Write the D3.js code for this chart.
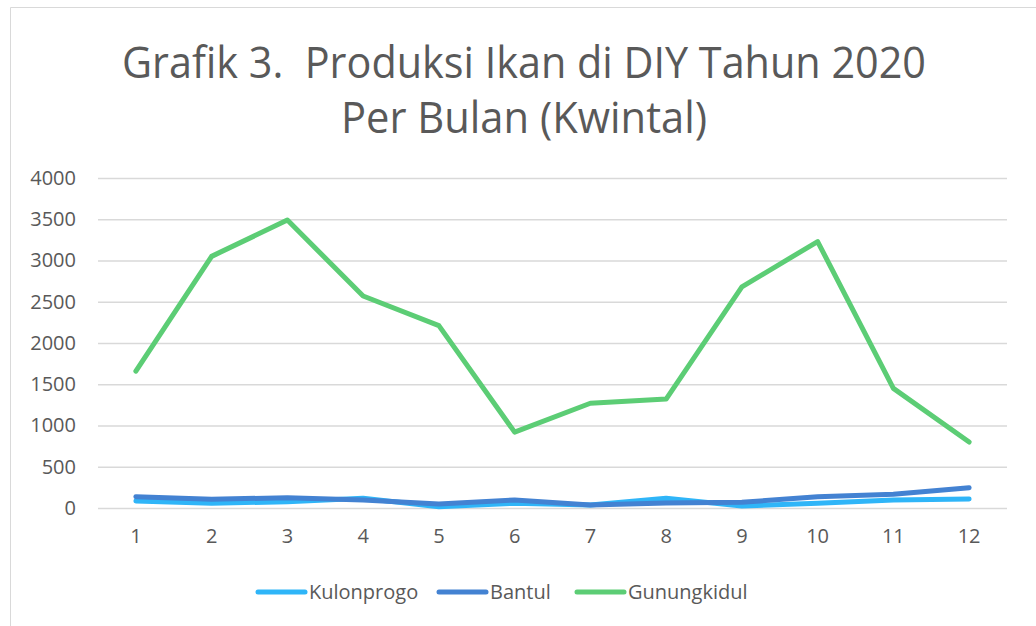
<!DOCTYPE html>
<html>
<head>
<meta charset="utf-8">
<script src="https://cdn.jsdelivr.net/npm/d3@7"></script>
<style>
  html, body { margin: 0; padding: 0; background: #fff; }
  svg { display: block; font-family: "Open Sans", "Noto Sans", sans-serif; }
</style>
</head>
<body>
<svg id="chart" width="1036" height="626"></svg>
<script>
// data
const months = ["1", "2", "3", "4", "5", "6", "7", "8", "9", "10", "11", "12"];
const kulonprogo = [85, 57, 77, 117, 16, 57, 36, 117, 24, 57, 97, 109];
const bantul = [137, 105, 125, 97, 48, 97, 35, 60, 69, 137, 166, 246];
const gunungkidul = [1660, 3050, 3490, 2570, 2210, 920, 1270, 1320, 2680, 3230, 1450, 800];
const yTicks = [0, 500, 1000, 1500, 2000, 2500, 3000, 3500, 4000];

const series = [
    { name: "Kulonprogo", values: kulonprogo, color: "#2fb5f8" },
    { name: "Bantul", values: bantul, color: "#4382d2" },
    { name: "Gunungkidul", values: gunungkidul, color: "#5ccd75" }
];

const svg = d3.select("#chart");
const textColor = "#595959";
const labelSize = "20px";

// chart frame (only top and left edges are visible in the reference)
svg.append("path")
    .attr("d", "M10.5,626 V7.5 H1036")
    .attr("fill", "none")
    .attr("stroke", "#d9d9d9")
    .attr("stroke-width", 1);

// title — squeezed a little to match the narrower original face
const title = svg.append("text")
    .attr("text-anchor", "middle")
    .attr("fill", textColor)
    .style("font-size", "44px")
    .style("white-space", "pre");
title.append("tspan").attr("x", 524).attr("y", 78)
    .attr("textLength", 804).attr("lengthAdjust", "spacingAndGlyphs")
    .text("Grafik 3.  Produksi Ikan di DIY Tahun 2020");
title.append("tspan").attr("x", 524).attr("y", 133)
    .attr("textLength", 366).attr("lengthAdjust", "spacingAndGlyphs")
    .text("Per Bulan (Kwintal)");

const plot = { left: 98, right: 1007, top: 178, bottom: 508 };

const x = d3.scaleBand()
    .domain(months)
    .range([plot.left, plot.right]);

const y = d3.scaleLinear()
    .domain([0, 4000])
    .range([plot.bottom, plot.top]);

// gridlines + y labels
const yAxis = svg.append("g")
    .attr("transform", `translate(${plot.left},0)`)
    .call(d3.axisLeft(y).tickValues(yTicks).tickFormat(d3.format("d"))
        .tickSize(-(plot.right - plot.left)).tickPadding(22));
yAxis.select(".domain").remove();
yAxis.selectAll(".tick line").attr("stroke", "#d9d9d9").attr("stroke-width", 1.3);
yAxis.selectAll(".tick text")
    .attr("fill", textColor)
    .style("font-size", labelSize)
    .style("font-family", "'Open Sans', sans-serif");

// x labels
const xAxis = svg.append("g")
    .attr("transform", `translate(0,${plot.bottom})`)
    .call(d3.axisBottom(x).tickSize(0).tickPadding(21));
xAxis.select(".domain").remove();
xAxis.selectAll(".tick text")
    .attr("fill", textColor)
    .style("font-size", labelSize)
    .style("font-family", "'Open Sans', sans-serif");

// lines
const line = d3.line()
    .x((d, i) => x(months[i]) + x.bandwidth() / 2)
    .y(d => y(d));

svg.append("g")
    .selectAll("path")
    .data(series)
    .join("path")
    .attr("d", d => line(d.values))
    .attr("fill", "none")
    .attr("stroke", d => d.color)
    .attr("stroke-width", 5)
    .attr("stroke-linecap", "round")
    .attr("stroke-linejoin", "round");

// legend
const legendX = [258, 439, 577];
const legend = svg.append("g")
    .selectAll("g")
    .data(series)
    .join("g")
    .attr("transform", (d, i) => `translate(${legendX[i]},592)`);

legend.append("line")
    .attr("x1", 0).attr("x2", 47)
    .attr("stroke", d => d.color)
    .attr("stroke-width", 5)
    .attr("stroke-linecap", "round");

legend.append("text")
    .attr("x", 51)
    .attr("dy", "0.35em")
    .attr("fill", textColor)
    .style("font-size", labelSize)
    .text(d => d.name);
</script>
</body>
</html>
